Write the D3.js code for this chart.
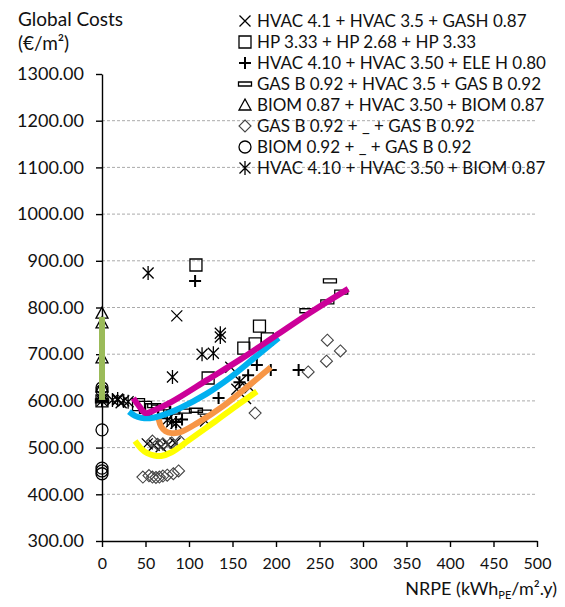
<!DOCTYPE html>
<html>
<head>
<meta charset="utf-8">
<script src="https://cdn.jsdelivr.net/npm/d3@7"></script>
<style>
  body { margin: 0; background: #fff; }
  text { font-family: Lato, "Open Sans", sans-serif; fill: #111; }
</style>
</head>
<body>
<div id="chart"></div>
<script>
// ---- data ----
const xTicks = [0, 50, 100, 150, 200, 250, 300, 350, 400, 450, 500]
const yTicks = [300, 400, 500, 600, 700, 800, 900, 1000, 1100, 1200, 1300]
const gridTicks = [400, 500, 600, 700, 800, 900, 1000, 1100, 1200]

const seriesNames = [
  "HVAC 4.1 + HVAC 3.5 + GASH 0.87",
  "HP 3.33 + HP 2.68 + HP 3.33",
  "HVAC 4.10 + HVAC 3.50 + ELE H 0.80",
  "GAS B 0.92 + HVAC 3.5 + GAS B 0.92",
  "BIOM 0.87 + HVAC 3.50 + BIOM 0.87",
  "GAS B 0.92 + _ + GAS B 0.92",
  "BIOM 0.92 + _ + GAS B 0.92",
  "HVAC 4.10 + HVAC 3.50 + BIOM 0.87"
]
const seriesMarkers = ["x", "square", "plus", "dash", "triangle", "diamond", "circle", "star"]

// [NRPE, global cost]
const hvacGash = [[0, 600], [18, 602], [22, 596], [86, 782], [119, 557], [52, 508], [60, 505],
  [68, 502], [76, 506], [84, 510], [155, 625], [159, 642], [165, 605], [170, 628], [148, 672]]
const hpHp = [[0, 600], [108, 891], [181, 760], [163, 713], [176, 722], [190, 733], [122, 649],
  [42, 592], [50, 586], [57, 581], [64, 578], [72, 575]]
const hvacEle = [[0, 600], [0, 605], [107, 857], [134, 606], [168, 655], [178, 677], [194, 666],
  [226, 666], [158, 640], [85, 555], [92, 560]]
const gasHvacGas = [[0, 600], [235, 793], [259, 812], [262, 857], [275, 833], [60, 590], [70, 585],
  [82, 576], [95, 578], [108, 580], [118, 576]]
const biomHvacBiom = [[0, 788], [0, 767], [0, 692], [0, 630], [0, 608]]
const gasGas = [[47, 437], [54, 440], [58, 437], [62, 436], [66, 437], [70, 439], [75, 441],
  [82, 444], [88, 450], [58, 514], [64, 507], [70, 508], [80, 510], [90, 513], [176, 574],
  [237, 662], [258, 685], [259, 730], [274, 707]]
const biomGas = [[0, 538], [0, 456], [0, 450], [0, 444], [0, 622], [0, 628]]
const hvacBiom = [[53, 874], [81, 651], [115, 700], [128, 702], [136, 737], [136, 745], [12, 602],
  [18, 604], [25, 600], [30, 598], [75, 559], [80, 555], [85, 552]]

const scatterData = [hvacGash, hpHp, hvacEle, gasHvacGas, biomHvacBiom, gasGas, biomGas, hvacBiom]

// trend curves
const greenBar = [[0, 602], [0, 780]]
const yellowCurve = [[38, 514], [45, 498], [52, 488], [60, 483], [68, 482], [80, 490], [100, 516],
  [130, 556], [155, 590], [178, 620]]
const orangeCurve = [[65, 562], [68, 545], [73, 535], [80, 531], [90, 533], [110, 553], [140, 590],
  [167, 630], [194, 672]]
const cyanCurve = [[31, 577], [38, 568], [45, 564], [55, 563], [67, 568], [90, 585], [120, 615],
  [148, 651], [175, 692], [203, 735]]
const magentaCurve = [[36, 606], [43, 588], [50, 574], [60, 580], [80, 598], [121, 645], [160, 690],
  [200, 740], [240, 790], [283, 840]]

const curves = [
  { pts: greenBar, color: "#9bbb59" },
  { pts: yellowCurve, color: "#ffff00" },
  { pts: orangeCurve, color: "#f79646" },
  { pts: cyanCurve, color: "#00b0f0" },
  { pts: magentaCurve, color: "#cc0099" }
]

// ---- dimensions ----
const dimensions = {
  width: 565,
  height: 607,
  margin: { top: 74, right: 28, bottom: 66, left: 102 }
}
dimensions.boundedWidth = dimensions.width - dimensions.margin.left - dimensions.margin.right
dimensions.boundedHeight = dimensions.height - dimensions.margin.top - dimensions.margin.bottom

const wrapper = d3.select("#chart")
  .append("svg")
    .attr("width", dimensions.width)
    .attr("height", dimensions.height)

const bounds = wrapper.append("g")
  .attr("transform", `translate(${dimensions.margin.left},${dimensions.margin.top})`)

const xScale = d3.scaleLinear()
  .domain([0, 500])
  .range([0, dimensions.boundedWidth])

const yScale = d3.scaleLinear()
  .domain([300, 1300])
  .range([dimensions.boundedHeight, 0])

// gridlines
bounds.append("g")
  .selectAll("line")
  .data(gridTicks)
  .join("line")
    .attr("x1", 0)
    .attr("x2", dimensions.boundedWidth)
    .attr("y1", d => yScale(d))
    .attr("y2", d => yScale(d))
    .attr("stroke", "#aaa")
    .attr("stroke-width", 1)
    .attr("stroke-dasharray", "3,2")

// axes
const yAxis = bounds.append("g")
  .call(d3.axisLeft(yScale)
    .tickValues(yTicks)
    .tickFormat(d3.format(".2f"))
    .tickSize(6)
    .tickSizeOuter(0)
    .tickPadding(12))
yAxis.selectAll("text").style("font-size", "18px").style("font-family", "Lato")

const xAxis = bounds.append("g")
  .attr("transform", `translate(0,${dimensions.boundedHeight})`)
  .call(d3.axisBottom(xScale)
    .tickValues(xTicks)
    .tickSize(6)
    .tickSizeOuter(0)
    .tickPadding(11))
xAxis.selectAll("text").style("font-size", "16px").style("font-family", "Lato")

;[xAxis, yAxis].forEach(ax => {
  ax.select(".domain").attr("stroke", "#000").attr("stroke-width", 1.4)
  ax.selectAll(".tick line").attr("stroke", "#000").attr("stroke-width", 1.4)
})

// marker shapes
function markerPath(type) {
  const s = 5.5
  switch (type) {
    case "x": return `M${-s},${-s}L${s},${s}M${-s},${s}L${s},${-s}`
    case "square": return `M-6,-6H6V6H-6Z`
    case "plus": return `M${-s - 0.5},0H${s + 0.5}M0,${-s - 0.5}V${s + 0.5}`
    case "dash": return `M-6.5,-2H6.5V2H-6.5Z`
    case "triangle": return `M0,-6L6,5H-6Z`
    case "diamond": return `M0,-6L6,0L0,6L-6,0Z`
    case "circle": return `M6,0A6,6 0 1,1 -6,0A6,6 0 1,1 6,0Z`
    case "star": return `M${-s},${-s}L${s},${s}M${-s},${s}L${s},${-s}M0,-7V7`
  }
}
const markerStroke = t => t === "diamond" ? "#444" : "#000"
const markerWidth = t => t === "plus" ? 2 : (t === "diamond" ? 1.1 : 1.3)

scatterData.forEach((data, i) => {
  const type = seriesMarkers[i]
  bounds.append("g")
    .selectAll("path")
    .data(data)
    .join("path")
      .attr("transform", d => `translate(${xScale(d[0])},${yScale(d[1])})`)
      .attr("d", markerPath(type))
      .attr("fill", "none")
      .attr("stroke", markerStroke(type))
      .attr("stroke-width", markerWidth(type))
})

// trend curves
const lineGenerator = d3.line()
  .x(d => xScale(d[0]))
  .y(d => yScale(d[1]))
  .curve(d3.curveCatmullRom.alpha(0.5))

bounds.append("g")
  .selectAll("path")
  .data(curves)
  .join("path")
    .attr("d", d => lineGenerator(d.pts))
    .attr("fill", "none")
    .attr("stroke", d => d.color)
    .attr("stroke-width", 6)
    .attr("stroke-linecap", "butt")

// y title
wrapper.append("text")
  .attr("x", 18).attr("y", 26)
  .style("font-size", "19px")
  .text("Global Costs")
wrapper.append("text")
  .attr("x", 18).attr("y", 50)
  .style("font-size", "19px")
  .text("(€/m²)")

// x title
const xTitle = wrapper.append("text")
  .attr("x", 557).attr("y", 595)
  .attr("text-anchor", "end")
  .style("font-size", "18px")
xTitle.append("tspan").text("NRPE (kWh")
xTitle.append("tspan").text("PE").style("font-size", "11px").attr("dy", 4)
xTitle.append("tspan").text("/m².y)").attr("dy", -4)

// legend
const legend = wrapper.append("g")
  .attr("transform", "translate(245,21)")
const legendRows = legend.selectAll("g")
  .data(seriesNames)
  .join("g")
    .attr("transform", (d, i) => `translate(0,${i * 21})`)
legendRows.append("path")
  .attr("d", (d, i) => markerPath(seriesMarkers[i]))
  .attr("fill", "none")
  .attr("stroke", (d, i) => markerStroke(seriesMarkers[i]))
  .attr("stroke-width", (d, i) => markerWidth(seriesMarkers[i]))
legendRows.append("text")
  .attr("x", 12)
  .attr("y", 6)
  .style("font-size", "17px")
  .text(d => d)
</script>
</body>
</html>
